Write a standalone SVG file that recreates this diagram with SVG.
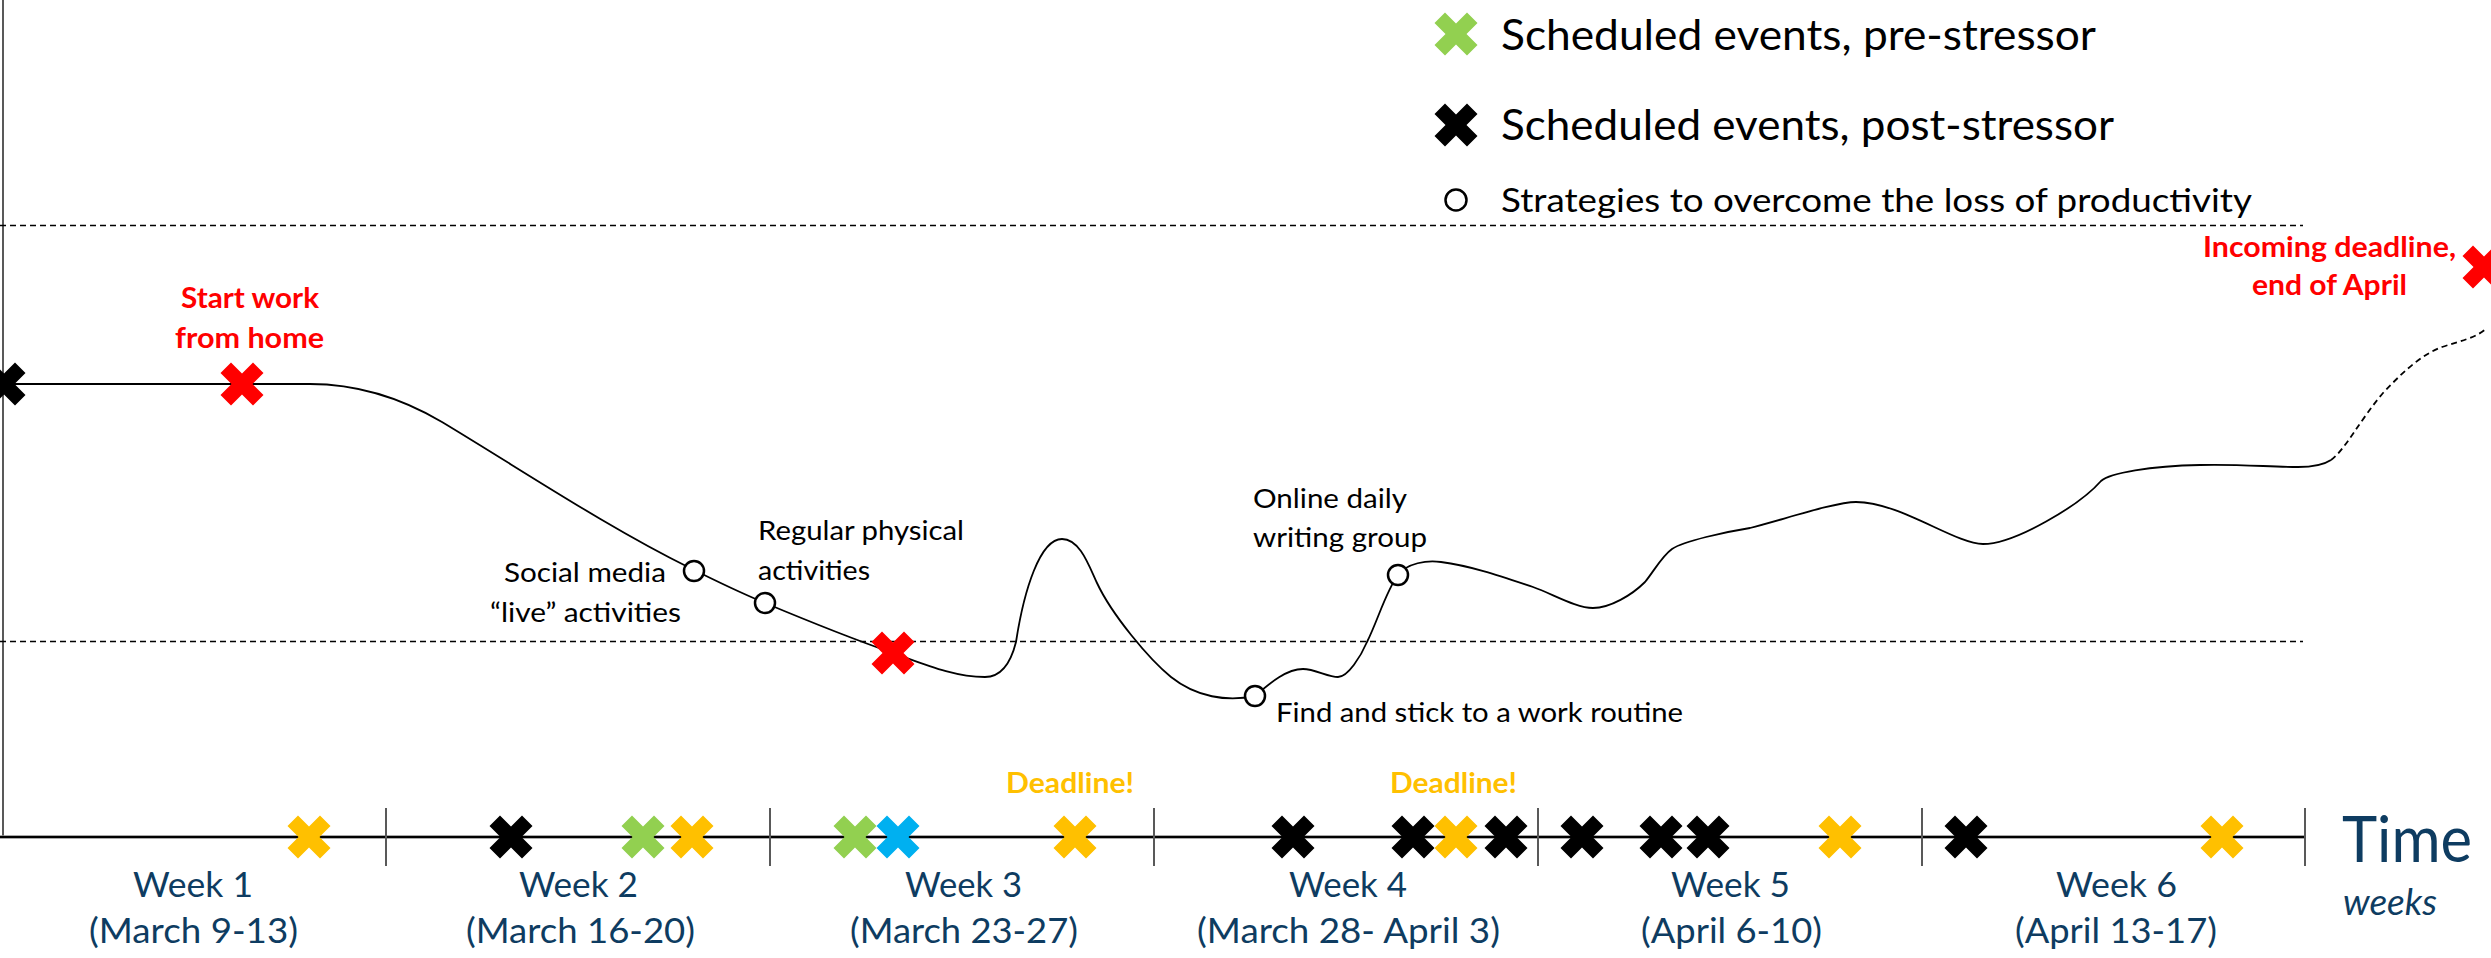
<svg xmlns="http://www.w3.org/2000/svg" xmlns:xlink="http://www.w3.org/1999/xlink" width="2491" height="958" viewBox="0 0 2491 958">
  <style>
    .txt { font-family: Lato, "Open Sans", "Liberation Sans", sans-serif; }
    .note { font-size: 26.5px; fill: #000; }
    .alert { font-size: 28.5px; font-weight: bold; }
    .red { fill: #FF0000; }
    .amber { fill: #FFC000; }
    .week { font-size: 35px; fill: #0E3C61; }
    .legend { fill: #000; }
    .axis { stroke: #595959; stroke-width: 2; fill: none; }
    .tick { stroke: #595959; stroke-width: 2; }
    .guide { stroke: #000; stroke-width: 1.5; stroke-dasharray: 6 4; fill: none; }
    .trend { stroke: #000; stroke-width: 1.8; fill: none; }
    .strategy { fill: #fff; stroke: #000; stroke-width: 2.5; }
  </style>
  <defs>
    <!-- heavy multiplication cross used for scheduled events -->
    <path id="xm" d="M-21.5,-11 L-11,-21.5 L0,-10.5 L11,-21.5 L21.5,-11 L10.5,0 L21.5,11 L11,21.5 L0,10.5 L-11,21.5 L-21.5,11 L-10.5,0 Z"/>
  </defs>

  <rect width="2491" height="958" fill="#fff"/>

  <!-- axes, week ticks and threshold guides -->
  <g id="axes">
    <line class="axis" x1="3" y1="0" x2="3" y2="837"/>
    <line x1="0" y1="837" x2="2305" y2="837" stroke="#8c8c8c" stroke-width="3.5"/>
    <line x1="0" y1="837" x2="2305" y2="837" stroke="#000" stroke-width="1.8"/>
    <line class="tick" x1="386" y1="808" x2="386" y2="866"/>
    <line class="tick" x1="770" y1="808" x2="770" y2="866"/>
    <line class="tick" x1="1154" y1="808" x2="1154" y2="866"/>
    <line class="tick" x1="1538" y1="808" x2="1538" y2="866"/>
    <line class="tick" x1="1922" y1="808" x2="1922" y2="866"/>
    <line class="tick" x1="2305" y1="808" x2="2305" y2="866"/>
    <line class="guide" x1="0" y1="225.5" x2="2303" y2="225.5"/>
    <line class="guide" x1="0" y1="641.5" x2="2303" y2="641.5"/>
  </g>

  <!-- productivity curve -->
  <g id="connectors">
    <path class="trend" d="M3,384 L310,384
      C354,384 398,396 442,422
      C525,472 607,527 690,568
      C715,580.5 740,592.5 765,603
      C808,621 850,638 893,653
      C924,664 954,677 985,677
      C1000,677 1010,666 1016,642
      C1024,590 1040,539 1062,539
      C1080,539 1089,566 1097,583
      C1112,615 1149,659 1171,677
      C1196,697 1227,702 1255,696
      C1271,682 1287,669 1303,669
      C1315,669 1328,677 1338,677
      C1348,677 1361,656 1367,642
      C1378,620 1386,591 1398,575
      C1407,563 1427,560 1441,562
      C1472,566 1503,577 1533,587
      C1553,594 1576,608 1593,608
      C1610,608 1632,595 1645,582
      C1654,571 1662,556 1672,549
      C1684,541 1725,532 1750,528
      C1785,519 1836,502 1856,502
      C1900,502 1955,544 1983,544
      C2015,544 2080,505 2101,481
      C2110,473 2150,466 2200,465
      C2240,464 2270,467 2298,467
      C2315,467 2325,464 2331,460"/>
    <path class="trend" stroke-dasharray="6 4" d="M2331,460 C2345,450 2360,420 2383,393 C2400,375 2420,355 2442,347 C2460,341 2476,338 2487,328"/>
  </g>

  <!-- events on the curve -->
  <g id="stressor-events">
    <use xlink:href="#xm" x="4" y="384" fill="#000"/>
    <use xlink:href="#xm" x="242" y="384" fill="#FF0000"/>
    <use xlink:href="#xm" x="893" y="653" fill="#FF0000"/>
    <use xlink:href="#xm" x="2484" y="267" fill="#FF0000"/>
  </g>

  <g id="strategies">
    <circle class="strategy" cx="694" cy="571" r="10"/>
    <circle class="strategy" cx="765" cy="603" r="10"/>
    <circle class="strategy" cx="1255" cy="696" r="10"/>
    <circle class="strategy" cx="1398" cy="575" r="10"/>
  </g>

  <!-- scheduled events along the time axis -->
  <g id="timeline-events">
    <use xlink:href="#xm" x="309" y="837" fill="#FFC000"/>
    <use xlink:href="#xm" x="511" y="837" fill="#000"/>
    <use xlink:href="#xm" x="643" y="837" fill="#92D050"/>
    <use xlink:href="#xm" x="692" y="837" fill="#FFC000"/>
    <use xlink:href="#xm" x="855" y="837" fill="#92D050"/>
    <use xlink:href="#xm" x="898" y="837" fill="#00B0F0"/>
    <use xlink:href="#xm" x="1075" y="837" fill="#FFC000"/>
    <use xlink:href="#xm" x="1293" y="837" fill="#000"/>
    <use xlink:href="#xm" x="1413" y="837" fill="#000"/>
    <use xlink:href="#xm" x="1456" y="837" fill="#FFC000"/>
    <use xlink:href="#xm" x="1506" y="837" fill="#000"/>
    <use xlink:href="#xm" x="1582" y="837" fill="#000"/>
    <use xlink:href="#xm" x="1661" y="837" fill="#000"/>
    <use xlink:href="#xm" x="1708" y="837" fill="#000"/>
    <use xlink:href="#xm" x="1840" y="837" fill="#FFC000"/>
    <use xlink:href="#xm" x="1966" y="837" fill="#000"/>
    <use xlink:href="#xm" x="2222" y="837" fill="#FFC000"/>
  </g>

  <!-- legend -->
  <g id="legend" class="txt legend">
    <use xlink:href="#xm" x="1456" y="34" fill="#92D050"/>
    <text x="1501" y="50" font-size="42" textLength="595" lengthAdjust="spacingAndGlyphs">Scheduled events, pre-stressor</text>
    <use xlink:href="#xm" x="1456" y="125" fill="#000"/>
    <text x="1501" y="140" font-size="42" textLength="613" lengthAdjust="spacingAndGlyphs">Scheduled events, post-stressor</text>
    <circle class="strategy" cx="1456" cy="200" r="10.5"/>
    <text x="1501" y="212" font-size="33" textLength="751" lengthAdjust="spacingAndGlyphs">Strategies to overcome the loss of productivity</text>
  </g>

  <!-- event labels -->
  <g id="label-start" class="txt alert red">
    <text x="181" y="308" textLength="138" lengthAdjust="spacingAndGlyphs">Start work</text>
    <text x="175" y="348" textLength="149" lengthAdjust="spacingAndGlyphs">from home</text>
  </g>
  <g id="label-incoming" class="txt alert red">
    <text x="2203" y="257" textLength="253" lengthAdjust="spacingAndGlyphs">Incoming deadline,</text>
    <text x="2252" y="295" textLength="155" lengthAdjust="spacingAndGlyphs">end of April</text>
  </g>
  <g id="label-deadline-3" class="txt alert amber">
    <text x="1006" y="793" textLength="128" lengthAdjust="spacingAndGlyphs">Deadline!</text>
  </g>
  <g id="label-deadline-4" class="txt alert amber">
    <text x="1390" y="793" textLength="127" lengthAdjust="spacingAndGlyphs">Deadline!</text>
  </g>

  <!-- strategy labels -->
  <g id="label-social" class="txt note">
    <text x="504" y="582" textLength="162" lengthAdjust="spacingAndGlyphs">Social media</text>
    <text x="490" y="622" textLength="191" lengthAdjust="spacingAndGlyphs">“live” activities</text>
  </g>
  <g id="label-physical" class="txt note">
    <text x="758" y="540" textLength="206" lengthAdjust="spacingAndGlyphs">Regular physical</text>
    <text x="758" y="580" textLength="112" lengthAdjust="spacingAndGlyphs">activities</text>
  </g>
  <g id="label-writing" class="txt note">
    <text x="1253" y="508" textLength="154" lengthAdjust="spacingAndGlyphs">Online daily</text>
    <text x="1253" y="547" textLength="174" lengthAdjust="spacingAndGlyphs">writing group</text>
  </g>
  <g id="label-routine" class="txt note">
    <text x="1276" y="722" textLength="407" lengthAdjust="spacingAndGlyphs">Find and stick to a work routine</text>
  </g>

  <!-- week labels -->
  <g id="week-1" class="txt week">
    <text x="133" y="897" textLength="120" lengthAdjust="spacingAndGlyphs">Week 1</text>
    <text x="89" y="943" textLength="209" lengthAdjust="spacingAndGlyphs">(March 9-13)</text>
  </g>
  <g id="week-2" class="txt week">
    <text x="519" y="897" textLength="119" lengthAdjust="spacingAndGlyphs">Week 2</text>
    <text x="466" y="943" textLength="229" lengthAdjust="spacingAndGlyphs">(March 16-20)</text>
  </g>
  <g id="week-3" class="txt week">
    <text x="905" y="897" textLength="117" lengthAdjust="spacingAndGlyphs">Week 3</text>
    <text x="850" y="943" textLength="228" lengthAdjust="spacingAndGlyphs">(March 23-27)</text>
  </g>
  <g id="week-4" class="txt week">
    <text x="1289" y="897" textLength="118" lengthAdjust="spacingAndGlyphs">Week 4</text>
    <text x="1197" y="943" textLength="303" lengthAdjust="spacingAndGlyphs">(March 28- April 3)</text>
  </g>
  <g id="week-5" class="txt week">
    <text x="1671" y="897" textLength="119" lengthAdjust="spacingAndGlyphs">Week 5</text>
    <text x="1641" y="943" textLength="181" lengthAdjust="spacingAndGlyphs">(April 6-10)</text>
  </g>
  <g id="week-6" class="txt week">
    <text x="2056" y="897" textLength="121" lengthAdjust="spacingAndGlyphs">Week 6</text>
    <text x="2015" y="943" textLength="202" lengthAdjust="spacingAndGlyphs">(April 13-17)</text>
  </g>
  <g id="time-label" class="txt" fill="#0E3C61">
    <text x="2342" y="862" font-size="64" textLength="130" lengthAdjust="spacingAndGlyphs">Time</text>
    <text x="2343" y="915" font-size="36" font-style="italic" textLength="94" lengthAdjust="spacingAndGlyphs">weeks</text>
  </g>
</svg>
